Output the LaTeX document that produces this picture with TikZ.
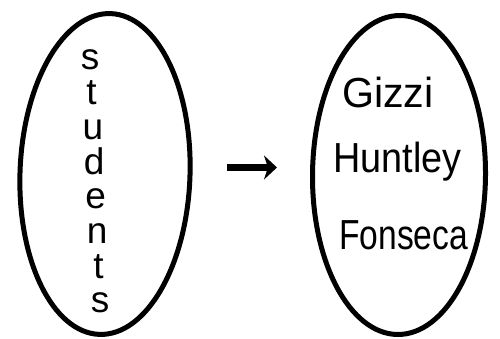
\documentclass[tikz,border=0pt]{standalone}
\usepackage{fontspec}
\setmainfont{Liberation Sans}
\usetikzlibrary{shapes.geometric,arrows.meta}
\begin{document}
\begin{tikzpicture}[x=1pt,y=1pt,
  oval/.style={ellipse,draw,line width=5pt,inner sep=0pt},
  letter/.style={anchor=base,inner sep=0pt,font=\fontsize{37}{37}\selectfont},
  pname/.style={anchor=base west,inner sep=0pt,font=\fontsize{42}{42}\selectfont,transform shape},
  arr/.style={line width=6.5pt,-{Stealth[length=13pt,width=24pt,inset=4pt]}}]
\useasboundingbox (0,0) rectangle (500,339);
\node[oval,minimum width=170pt,minimum height=321pt,rotate=-2] (L) at (105,165) {};
\node[oval,minimum width=173pt,minimum height=319pt,rotate=-0.5] (R) at (399,164) {};
\foreach \c [count=\i] in {s,t,u,d,e,n,t,s}
  \node[letter] (s\i) at ({90+10*(\i-1)/7},{269-34.7*(\i-1)}) {\c};
\node[pname,xscale=0.98] (g) at (342,231) {Gizzi};
\node[pname,xscale=0.9] (h) at (333,166) {Huntley};
\node[pname,xscale=0.8] (f) at (339,89) {Fonseca};
\coordinate (a1) at (227,171.5);
\coordinate (a2) at (277,171.5);
\draw[arr] (a1) -- (a2);
\end{tikzpicture}
\end{document}
